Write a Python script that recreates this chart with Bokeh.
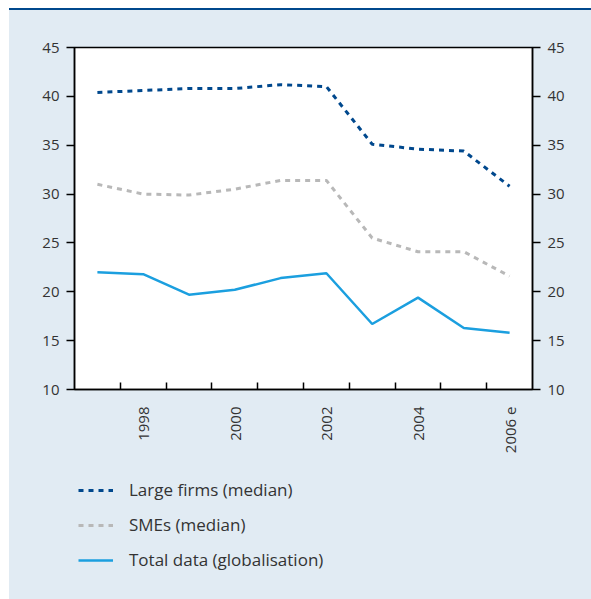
from bokeh.plotting import figure
from bokeh.models import Range1d, LinearAxis, FixedTicker, Legend, LegendItem, Div, Spacer
from bokeh.layouts import column, row
from bokeh.embed import file_html
from bokeh.resources import INLINE

years = [1997, 1998, 1999, 2000, 2001, 2002, 2003, 2004, 2005, 2006]
large_firms = [40.4, 40.6, 40.8, 40.8, 41.2, 41.0, 35.1, 34.6, 34.4, 30.8]
smes = [31.0, 30.0, 29.9, 30.5, 31.4, 31.4, 25.5, 24.1, 24.1, 21.6]
total = [22.0, 21.8, 19.7, 20.2, 21.4, 21.9, 16.7, 19.4, 16.3, 15.8]
x_labels = {1998: "1998", 2000: "2000", 2002: "2002", 2004: "2004", 2006: "2006 e"}
y_ticks = [10, 15, 20, 25, 30, 35, 40, 45]
series_names = ["Large firms (median)", "SMEs (median)", "Total data (globalisation)"]

BG = "#e1ebf3"
DARK = "#00488d"
GREY = "#b8b8b8"
CYAN = "#1b9fdf"
FONT = "Open Sans"
TXT = "#333333"
W = 582

p = figure(width=W, height=450, output_backend="svg", toolbar_location=None,
           x_range=Range1d(years[0] - 0.5, years[-1] + 0.5), y_range=Range1d(10, 45),
           min_border_left=65, min_border_right=59, min_border_top=37, min_border_bottom=71,
           background_fill_color="white", border_fill_color=BG,
           outline_line_color="black", outline_line_width=1.5,
           x_axis_type=None, y_axis_type=None)

# bottom axis: labels at years, small ticks between years
xt = FixedTicker(ticks=list(x_labels.keys()), minor_ticks=[y + 0.5 for y in years[:-1]])
xa = LinearAxis(ticker=xt, major_label_overrides={k: v for k, v in x_labels.items()})
xa.major_tick_in = 0
xa.major_tick_out = 0
xa.minor_tick_in = 7
xa.minor_tick_out = 0
xa.minor_tick_line_color = "black"
xa.minor_tick_line_width = 1.5
xa.axis_line_color = "black"
xa.axis_line_width = 1.5
xa.major_label_orientation = 1.5707963
xa.major_label_standoff = 17
xa.major_label_text_font = FONT
xa.major_label_text_font_size = "15px"
xa.major_label_text_color = TXT
p.add_layout(xa, "below")

for side in ("left", "right"):
    ya = LinearAxis(ticker=FixedTicker(ticks=y_ticks))
    ya.major_tick_in = 0
    ya.major_tick_out = 8
    ya.minor_tick_in = 0
    ya.minor_tick_out = 0
    ya.major_tick_line_width = 1.5
    ya.axis_line_width = 1.5
    ya.major_label_standoff = 7
    ya.major_label_text_font = FONT
    ya.major_label_text_font_size = "15px"
    ya.major_label_text_color = TXT
    p.add_layout(ya, side)

p.xgrid.visible = False
p.ygrid.ticker = FixedTicker(ticks=[15, 20, 25, 30, 35, 40])
p.ygrid.grid_line_color = "#a8a8a8"
p.ygrid.grid_line_width = 1.2

styles = [dict(line_color=DARK, line_width=3, line_dash="5 5"),
          dict(line_color=GREY, line_width=3, line_dash="5 5"),
          dict(line_color=CYAN, line_width=2.5)]
series = [large_firms, smes, total]
for vals, st in zip(series, styles):
    p.line(years, vals, **st)

# legend panel below the chart (same series, drawn outside its visible range)
pl = figure(width=W, height=139, output_backend="svg", toolbar_location=None,
            x_range=Range1d(0, 1), y_range=Range1d(0, 1),
            min_border=0, background_fill_color=BG, border_fill_color=BG,
            outline_line_color=None, x_axis_type=None, y_axis_type=None)
pl.grid.visible = False
legend_renderers = [pl.line(years, vals, **st) for vals, st in zip(series, styles)]
legend = Legend(items=[LegendItem(label=n, renderers=[r]) for n, r in zip(series_names, legend_renderers)],
                location=(4, 28))
legend.background_fill_alpha = 0
legend.border_line_color = None
legend.padding = 0
legend.margin = 0
legend.spacing = 12
legend.glyph_width = 35
legend.glyph_height = 20
legend.label_height = 20
legend.label_standoff = 16
legend.label_text_font = FONT
legend.label_text_font_size = "17px"
legend.label_text_color = TXT
pl.add_layout(legend, "center")

top_line = Div(text="", width=W, height=2, margin=0, styles={"background-color": DARK})
panel = column(top_line, p, pl, spacing=0, styles={"background-color": BG})
layout = row(Spacer(width=9, height=10),
             column(Spacer(width=W, height=8), panel, spacing=0),
             spacing=0)

open("out.html", "w").write(file_html(layout, INLINE))
